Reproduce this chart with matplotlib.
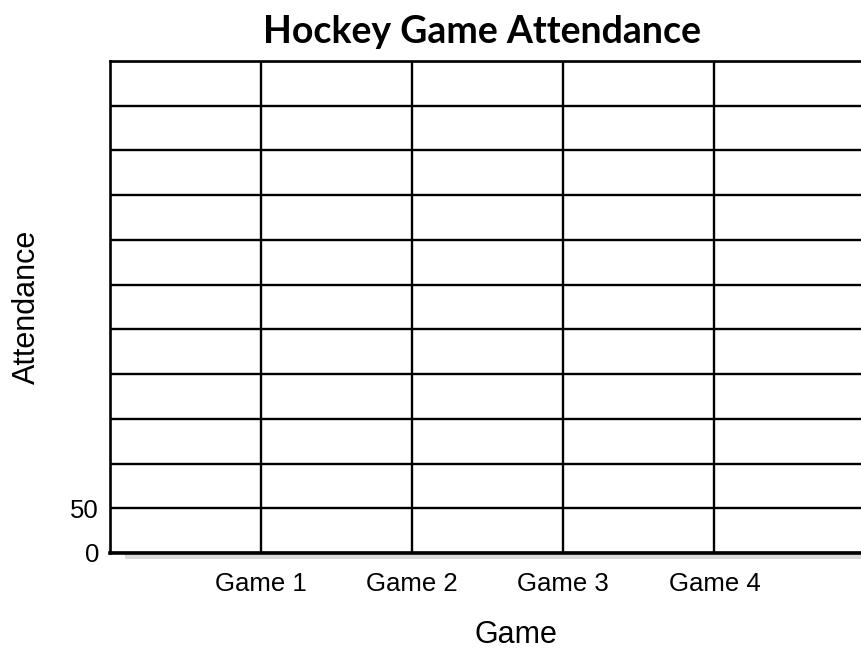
import matplotlib
matplotlib.use("Agg")
import matplotlib.pyplot as plt
from matplotlib.patches import Rectangle

# Data (blank grid chart)
games = ["Game 1", "Game 2", "Game 3", "Game 4"]
game_positions = [1, 2, 3, 4]
y_ticks = [0, 50, 100, 150, 200, 250, 300, 350, 400, 450, 500, 550]
y_tick_labels = ["0", "50", "", "", "", "", "", "", "", "", "", ""]
title = "Hockey Game Attendance"
x_label = "Game"
y_label = "Attendance"

plt.rcParams['font.family'] = ['Liberation Sans', 'DejaVu Sans']

fig = plt.figure(figsize=(8.61, 6.55), dpi=100)
ax = fig.add_axes([110/861, 1 - 553/655, 1 - 110/861, (553 - 61)/655])

ax.set_xlim(0, 4.97)
ax.set_ylim(0, 550)

# grid lines
ax.set_yticks(y_ticks)
ax.set_yticklabels(y_tick_labels, fontsize=18.5)
ax.set_xticks(game_positions)
ax.set_xticklabels(games, fontsize=18.5)
ax.tick_params(axis='both', length=0)
ax.tick_params(axis='x', pad=14)
ax.tick_params(axis='y', pad=8)
ax.grid(True, color='black', linewidth=1.7)
ax.set_axisbelow(False)

for side in ['top', 'left']:
    ax.spines[side].set_linewidth(1.9)
    ax.spines[side].set_color('black')
ax.spines['right'].set_visible(False)
ax.spines['bottom'].set_linewidth(2.6)
ax.spines['bottom'].set_color('black')

# light dotted-looking shading below baseline
ax.add_patch(Rectangle((0.02, -0.013), 0.98, 0.013, transform=ax.transAxes,
                       facecolor='#d9d9d9', edgecolor='none', clip_on=False, zorder=0))

ax.set_xlabel(x_label, fontsize=22)
ax.set_ylabel(y_label, fontsize=22, labelpad=20)
ax.xaxis.set_label_coords((516 - 110) / 751, -(620 - 553) / 492)

fig.text(482/861, 1 - 32/655, title, ha='center', va='center',
         fontsize=27, fontweight='bold', family=['Lato', 'DejaVu Sans'])

fig.savefig("out.png", dpi=100)
